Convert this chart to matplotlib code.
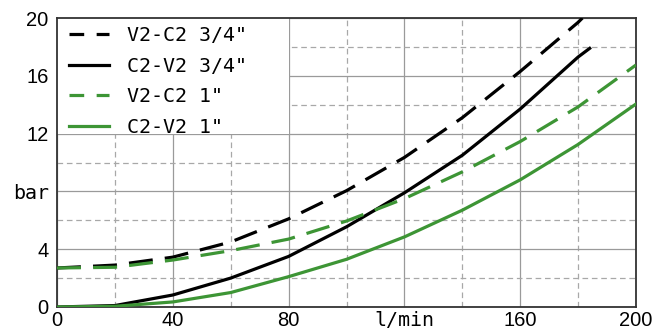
import matplotlib
matplotlib.use('Agg')
import matplotlib.pyplot as plt
from matplotlib.lines import Line2D
from matplotlib.patches import Rectangle

# flow (l/min) and pressure drop (bar)
flow_34_v2c2 = [0, 20, 40, 60, 80, 100, 120, 140, 160, 180, 181.5]
bar_34_v2c2 = [2.7, 2.9, 3.45, 4.5, 6.1, 8.05, 10.35, 13.1, 16.3, 19.7, 20.0]

flow_34_c2v2 = [0, 20, 40, 60, 80, 100, 120, 140, 160, 180, 184]
bar_34_c2v2 = [0, 0.1, 0.83, 2.0, 3.5, 5.55, 7.9, 10.5, 13.7, 17.3, 17.9]

flow_1 = [0, 20, 40, 60, 80, 100, 120, 140, 160, 180, 200]
bar_1_v2c2 = [2.7, 2.75, 3.25, 3.9, 4.7, 5.95, 7.5, 9.35, 11.45, 13.85, 16.75]
bar_1_c2v2 = [0, 0.05, 0.35, 1.0, 2.1, 3.3, 4.85, 6.7, 8.8, 11.25, 14.05]

labels = ['V2-C2 3/4"', 'C2-V2 3/4"', 'V2-C2 1"', 'C2-V2 1"']
x_ticks = [0, 40, 80, 120, 160, 200]
x_ticklabels = ['0', '40', '80', 'l/min', '160', '200']
y_ticks = [0, 4, 8, 12, 16, 20]
y_ticklabels = ['0', '4', 'bar', '12', '16', '20']

green = '#3d9535'
lw = 2.3
dash = (7.5, 3.8)

fig = plt.figure(figsize=(6.72, 3.33), dpi=100)
ax = fig.add_axes([57 / 672, 26 / 333, 579 / 672, 289 / 333])

ax.plot(flow_34_v2c2, bar_34_v2c2, color='black', lw=lw, dashes=dash, zorder=3)
ax.plot(flow_34_c2v2, bar_34_c2v2, color='black', lw=lw, zorder=3)
ax.plot(flow_1, bar_1_v2c2, color=green, lw=lw, dashes=dash, zorder=3)
ax.plot(flow_1, bar_1_c2v2, color=green, lw=lw, zorder=3)

ax.set_xlim(0, 200)
ax.set_ylim(0, 20)

# grid: solid majors, dashed minors
ax.set_xticks(x_ticks)
ax.set_yticks(y_ticks)
ax.set_xticks([20, 60, 100, 140, 180], minor=True)
ax.set_yticks([2, 6, 10, 14, 18], minor=True)
ax.grid(which='major', color='#9a9a9a', lw=0.9, ls='-')
ax.grid(which='minor', color='#a8a8a8', lw=0.9, dashes=(4.5, 3))
ax.set_axisbelow(True)

ax.set_xticklabels(x_ticklabels)
ax.set_yticklabels(y_ticklabels)
ax.tick_params(which='both', length=0, labelsize=14.5, colors='black')
ax.tick_params(axis='x', pad=3)
ax.tick_params(axis='y', pad=6)
for t in ax.get_xticklabels() + ax.get_yticklabels():
    t.set_family('Liberation Sans')
    if t.get_text() in ('bar', 'l/min'):
        t.set_family('DejaVu Sans Mono')
        t.set_fontsize(14.4)

for s in ax.spines.values():
    s.set_color('#333333')
    s.set_linewidth(1.3)

# white box behind the legend hides the grid there
ax.add_patch(Rectangle((0, 12), 80, 8, facecolor='white', edgecolor='none', zorder=2))

handles = [
    Line2D([], [], color='black', lw=lw, dashes=(4.6, 3.9)),
    Line2D([], [], color='black', lw=lw),
    Line2D([], [], color=green, lw=lw, dashes=(4.6, 3.9)),
    Line2D([], [], color=green, lw=lw),
]
leg = ax.legend(handles, labels, loc='upper left', bbox_to_anchor=(0.021, 0.972),
                frameon=False, prop={'family': 'DejaVu Sans Mono', 'size': 14.4},
                handlelength=2.0, handletextpad=0.9, labelspacing=0.58,
                borderaxespad=0, borderpad=0)
leg.set_zorder(4)

fig.savefig('out.png', dpi=100)
